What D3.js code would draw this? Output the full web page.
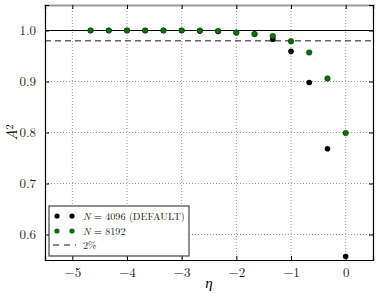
<!DOCTYPE html>
<html lang="en">
<head>
<meta charset="UTF-8">
<script src="https://d3js.org/d3.v7.min.js"></script>
<style>
  body { margin: 0; background: #fff; }
  text { font-family: "Latin Modern Roman", "Liberation Serif", serif; }
  .grid line { stroke: #999; stroke-dasharray: 1,2; stroke-width: 1px; }
</style>
</head>
<body>
<div id="container"></div>
<script>
// eta values and A^2 for each resolution
var eta = [-4.667, -4.333, -4, -3.667, -3.333, -3, -2.667, -2.333, -2, -1.667, -1.333, -1, -0.667, -0.333, 0];
var a2N4096 = [1.0, 1.0, 1.0, 1.0, 1.0, 1.0, 0.999, 0.998, 0.996, 0.993, 0.983, 0.959, 0.898, 0.768, 0.557];
var a2N8192 = [1.0, 1.0, 1.0, 1.0, 1.0, 1.0, 1.0, 0.999, 0.996, 0.993, 0.989, 0.979, 0.957, 0.906, 0.799];
var xTicks = [-5, -4, -3, -2, -1, 0];
var yTicks = [0.6, 0.7, 0.8, 0.9, 1.0];
var refLine = 1.0, tolLine = 0.98;
var legendLabels = ["N = 4096 (DEFAULT)", "N = 8192", "2%"];

var W = 379, H = 301;
var margin = { top: 5, right: 6, bottom: 41, left: 45 },
    width = W - margin.left - margin.right,
    height = H - margin.top - margin.bottom;

var x = d3.scaleLinear().domain([-5.5, 0.5]).range([0, width]);
var y = d3.scaleLinear().domain([0.55, 1.05]).range([height, 0]);

var svg = d3.select("#container").append("svg")
    .attr("width", W).attr("height", H)
    .append("g")
    .attr("transform", "translate(" + margin.left + "," + margin.top + ")");

// grid
var grid = svg.append("g").attr("class", "grid");
grid.selectAll(".gx").data(xTicks).enter().append("line")
    .attr("x1", d => x(d)).attr("x2", d => x(d))
    .attr("y1", 0).attr("y2", height);
grid.selectAll(".gy").data(yTicks).enter().append("line")
    .attr("y1", d => y(d)).attr("y2", d => y(d))
    .attr("x1", 0).attr("x2", width);

// reference lines
svg.append("line")
    .attr("x1", 0).attr("x2", width)
    .attr("y1", y(refLine)).attr("y2", y(refLine))
    .attr("stroke", "#000").attr("stroke-width", 1.2);
svg.append("line")
    .attr("x1", 0).attr("x2", width)
    .attr("y1", y(tolLine)).attr("y2", y(tolLine))
    .attr("stroke", "#666").attr("stroke-width", 1.5)
    .attr("stroke-dasharray", "6,4");

// points
svg.selectAll(".p1").data(eta).enter().append("circle")
    .attr("cx", d => x(d))
    .attr("cy", (d, i) => y(a2N4096[i]))
    .attr("r", 2.8).attr("fill", "#000");
svg.selectAll(".p2").data(eta).enter().append("circle")
    .attr("cx", d => x(d))
    .attr("cy", (d, i) => y(a2N8192[i]))
    .attr("r", 2.8).attr("fill", "#0a6e0a").attr("stroke", "#003300").attr("stroke-width", 0.5);

// axes (ticks inside)
var xAxis = svg.append("g").attr("transform", "translate(0," + height + ")")
    .call(d3.axisBottom(x).tickValues(xTicks).tickSize(-4).tickPadding(8)
        .tickFormat(d => d < 0 ? "\u2212" + Math.abs(d) : d));
var xTop = svg.append("g")
    .call(d3.axisTop(x).tickValues(xTicks).tickSize(-4).tickFormat(""));
var yAxis = svg.append("g")
    .call(d3.axisLeft(y).tickValues(yTicks).tickSize(-4).tickPadding(9).tickFormat(d3.format(".1f")));
var yRight = svg.append("g").attr("transform", "translate(" + width + ",0)")
    .call(d3.axisRight(y).tickValues(yTicks).tickSize(-4).tickFormat(""));
[xAxis, xTop, yAxis, yRight].forEach(function (g) {
    g.select(".domain").attr("stroke", "#000").attr("stroke-width", 1.2);
    g.selectAll("text").attr("font-size", "13px").attr("fill", "#222");
});
xTop.select(".domain").attr("stroke", "#999").attr("stroke-width", 2);

// axis labels
svg.append("text")
    .attr("x", x(-2.5)).attr("y", height + 28)
    .attr("text-anchor", "middle").attr("font-size", "15px")
    .attr("font-style", "italic").text("\u03b7");
var yl = svg.append("text")
    .attr("transform", "translate(" + (-28) + "," + y(0.8) + ") rotate(-90)")
    .attr("text-anchor", "middle").attr("font-size", "15px")
    .attr("font-style", "italic");
yl.append("tspan").text("A");
yl.append("tspan").attr("dy", "-0.4em").attr("font-size", "10px").attr("font-style", "normal").text("2");

// legend
var lg = svg.append("g").attr("transform", "translate(" + 4 + "," + 201 + ")");
lg.append("rect").attr("width", 140).attr("height", 50)
    .attr("fill", "#fff").attr("stroke", "#444").attr("stroke-width", 1.2);
var rowsY = [10, 25, 39];
var colors = ["#000", "#0a6e0a"];
[0, 1].forEach(function (k) {
    [8, 23].forEach(function (cx) {
        lg.append("circle").attr("cx", cx).attr("cy", rowsY[k]).attr("r", 2.6).attr("fill", colors[k]);
    });
});
lg.append("line").attr("x1", 4).attr("x2", 27).attr("y1", rowsY[2]).attr("y2", rowsY[2])
    .attr("stroke", "#666").attr("stroke-width", 1.5).attr("stroke-dasharray", "6,5");
function nLabel(t, yy, val) {
    t.attr("x", 34).attr("y", yy + 4).attr("font-size", "12px").attr("fill", "#222");
    t.append("tspan").attr("font-style", "italic").text("N");
    t.append("tspan").text(" = " + val);
    return t;
}
var t0 = nLabel(lg.append("text"), rowsY[0], legendLabels[0].replace("N = ", ""));
var t1 = nLabel(lg.append("text"), rowsY[1], legendLabels[1].replace("N = ", ""));
var t2 = lg.append("text").attr("x", 34).attr("y", rowsY[2] + 4).attr("font-size", "12px")
    .attr("fill", "#222").text(legendLabels[2]);
// fit the longest legend entry inside the box (text runs to ~103px)
var fs = Math.min(12, 12 * 102 / t0.node().getComputedTextLength());
[t0, t1, t2].forEach(t => t.attr("font-size", fs + "px"));
</script>
</body>
</html>
